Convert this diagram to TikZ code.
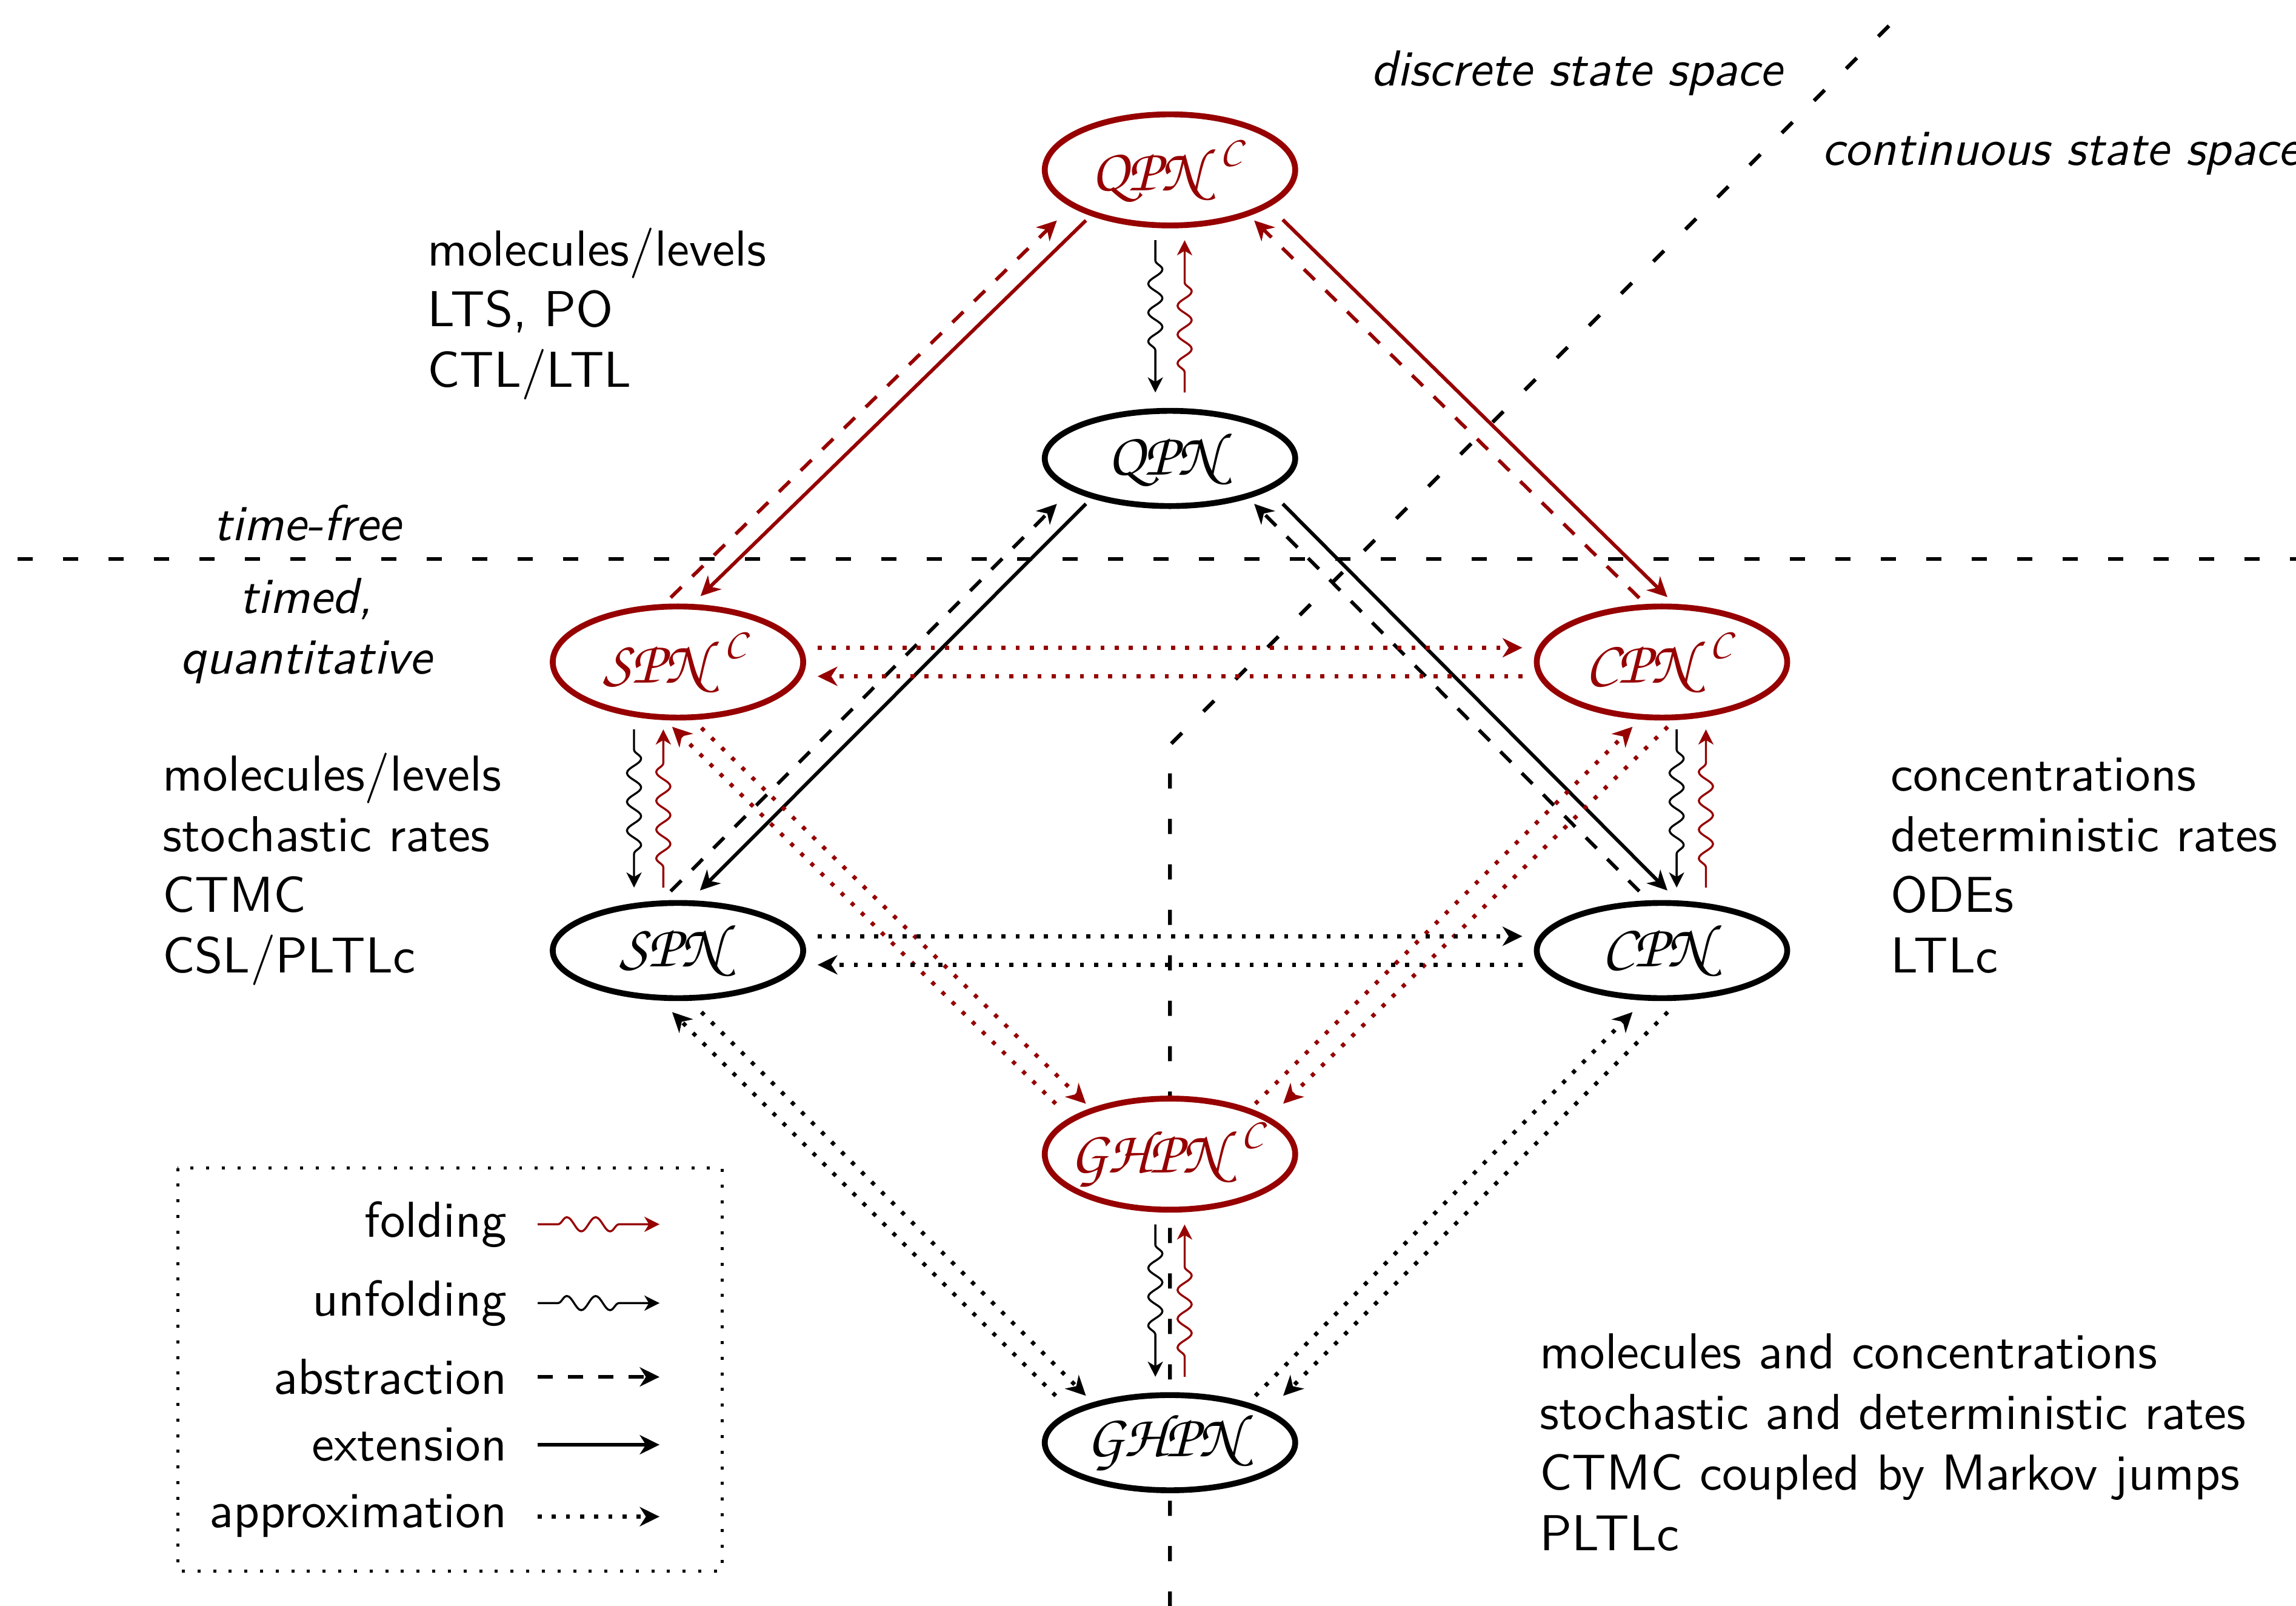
\documentclass[tikz,border=0pt]{standalone}
\usetikzlibrary{arrows.meta,decorations.pathmorphing,calc,shapes.geometric}
\DeclareMathAlphabet{\mathpzc}{OT1}{pzc}{m}{it}
\definecolor{dred}{RGB}{150,0,0}
% net class labels in Zapf Chancery, kept zero-width so all ellipses share one size
\newcommand\netlabel[1]{\makebox[0pt]{$\mathpzc{#1}$}}
\newcommand\netlabelc[1]{\makebox[0pt]{$\mathpzc{#1}^{\mkern2mu\mathpzc{C}}$}}
\tikzset{
  bigtip/.tip={Stealth[length=3.9pt,width=3.8pt,inset=1.2pt]},
  smalltip/.tip={Stealth[length=3pt,width=3pt,inset=0.9pt]},
  netnode/.style={ellipse, draw, line width=1.16pt, fill=white, inner sep=0pt,
    minimum width=49.6pt, minimum height=18.85pt, font=\large},
  colnode/.style={netnode, draw=dred, text=dred, minimum height=22pt},
  wavy/.style={line width=0.4pt, -smalltip, decorate,
    decoration={snake, amplitude=1.4pt, segment length=5.7pt, pre length=4pt, post length=6pt}},
  foldarr/.style={wavy, dred},
  unfoldarr/.style={wavy, black},
  extarr/.style={line width=0.7pt, -bigtip},
  absarr/.style={line width=0.7pt, dash pattern=on 3pt off 3pt, -bigtip},
  apparr/.style={line width=0.8pt, dash pattern=on 0.8pt off 2pt, -bigtip},
  divline/.style={line width=0.75pt, dash pattern=on 3pt off 6pt},
  legbox/.style={line width=0.6pt, dash pattern=on 0.6pt off 2.5pt},
  lbl/.style={font=\sffamily, inner sep=0pt},
  slantedtxt/.style={font=\sffamily\itshape, inner sep=0pt}
}
\begin{document}
\begin{tikzpicture}[x=0.29pt, y=-0.29pt]
\useasboundingbox (0,0) rectangle (1568,1096.5);

% borders between the classes
\coordinate (hl0) at (12,381.8);
\coordinate (hl1) at (1600,381.8);
\coordinate (dg0) at (1290,17.6);
\coordinate (dg1) at (799,508.6);
\coordinate (dg2) at (799,1110);
\draw[divline] (hl0) -- (hl1);
\draw[divline] (dg0) -- (dg1) -- (dg2);

% region labels (multi-line nodes sit on the baseline of their last line)
\node[slantedtxt, anchor=base west] (dss) at (936,58.6) {discrete state space};
\node[slantedtxt, anchor=base west] (css) at (1244,113) {continuous state space};
\node[slantedtxt, anchor=base] (tfree) at (209.7,369) {time-free};
\node[slantedtxt, align=center, anchor=base] (timed) at (209,460.2) {timed,\\quantitative};

% descriptions
\node[lbl, align=left, anchor=base west] (dqpn) at (291.2,264.1) {molecules/levels\\LTS, PO\\CTL/LTL};
\node[lbl, align=left, anchor=base west] (dspn) at (110.4,664.2) {molecules/levels\\stochastic rates\\CTMC\\CSL/PLTLc};
\node[lbl, align=left, anchor=base west] (dcpn) at (1290.4,664.2) {concentrations\\deterministic rates\\ODEs\\LTLc};
\node[lbl, align=left, anchor=base west] (dghpn) at (1050.8,1058.8) {molecules and concentrations\\stochastic and deterministic rates\\CTMC coupled by Markov jumps\\PLTLc};

% net classes
\node[colnode] (qpnc) at (799,116) {\netlabelc{QPN}};
\node[netnode] (qpn) at (799,313) {\netlabel{QPN}};
\node[colnode] (spnc) at (463,452) {\netlabelc{SPN}};
\node[colnode] (cpnc) at (1135,452) {\netlabelc{CPN}};
\node[netnode] (spn) at (463,649) {\netlabel{SPN}};
\node[netnode] (cpn) at (1135,649) {\netlabel{CPN}};
\node[colnode] (ghpnc) at (799,788) {\netlabelc{GHPN}};
\node[netnode] (ghpn) at (799,985) {\netlabel{GHPN}};

% folding / unfolding
\draw[unfoldarr] ($(qpnc)+(-10,48)$) -- ($(qpn)+(-10,-45)$);
\draw[foldarr] ($(qpn)+(10,-45)$) -- ($(qpnc)+(10,48)$);
\draw[unfoldarr] ($(spnc)+(-30,46)$) -- ($(spn)+(-30,-43)$);
\draw[foldarr] ($(spn)+(-10,-43)$) -- ($(spnc)+(-10,46)$);
\draw[unfoldarr] ($(cpnc)+(10,46)$) -- ($(cpn)+(10,-43)$);
\draw[foldarr] ($(cpn)+(30,-43)$) -- ($(cpnc)+(30,46)$);
\draw[unfoldarr] ($(ghpnc)+(-10,48)$) -- ($(ghpn)+(-10,-45)$);
\draw[foldarr] ($(ghpn)+(10,-45)$) -- ($(ghpnc)+(10,48)$);

% extension / abstraction, coloured level
\draw[extarr, dred] ($(qpnc)+(-57.4,34.5)$) -- ($(spnc)+(15.4,-45)$);
\draw[absarr, dred] ($(spnc)+(-5,-44)$) -- ($(qpnc)+(-77.2,34.5)$);
\draw[extarr, dred] ($(qpnc)+(77,34)$) -- ($(cpnc)+(3.7,-44.3)$);
\draw[absarr, dred] ($(cpnc)+(-15.5,-43.7)$) -- ($(qpnc)+(57.5,34.5)$);

% extension / abstraction, uncoloured level
\draw[extarr] ($(qpn)+(-57.4,31)$) -- ($(spn)+(15,-41)$);
\draw[absarr] ($(spn)+(-5,-40.5)$) -- ($(qpn)+(-77.2,31)$);
\draw[extarr] ($(qpn)+(77,31)$) -- ($(cpn)+(3.7,-41)$);
\draw[absarr] ($(cpn)+(-15.5,-40.5)$) -- ($(qpn)+(57.5,31)$);

% approximation, coloured level
\draw[apparr, dred] ($(spnc)+(95.4,-9.75)$) -- ($(cpnc)+(-95.4,-9.75)$);
\draw[apparr, dred] ($(cpnc)+(-95.4,9.75)$) -- ($(spnc)+(95.4,9.75)$);
\draw[apparr, dred] ($(spnc)+(16,45)$) -- ($(ghpnc)+(-57.4,-34.4)$);
\draw[apparr, dred] ($(ghpnc)+(-78,-34.4)$) -- ($(spnc)+(-4,44.2)$);
\draw[apparr, dred] ($(cpnc)+(3.9,44.2)$) -- ($(ghpnc)+(77.3,-34.4)$);
\draw[apparr, dred] ($(ghpnc)+(58.3,-34.4)$) -- ($(cpnc)+(-20.1,44.2)$);

% approximation, uncoloured level
\draw[apparr] ($(spn)+(95.4,-9.75)$) -- ($(cpn)+(-95.4,-9.75)$);
\draw[apparr] ($(cpn)+(-95.4,9.75)$) -- ($(spn)+(95.4,9.75)$);
\draw[apparr] ($(spn)+(16,42)$) -- ($(ghpn)+(-57.4,-32)$);
\draw[apparr] ($(ghpn)+(-78,-32)$) -- ($(spn)+(-4,42)$);
\draw[apparr] ($(cpn)+(3.9,42)$) -- ($(ghpn)+(77.3,-32)$);
\draw[apparr] ($(ghpn)+(58.3,-32)$) -- ($(cpn)+(-20.1,42)$);

% legend
\coordinate (lgA) at (121.3,797.5);
\coordinate (lgB) at (493,1072.6);
\draw[legbox] (lgA) rectangle (lgB);
\node[lbl, anchor=base east] (lfold) at (346.9,844.5) {folding};
\node[lbl, anchor=base east] (lunfold) at (346.9,898.3) {unfolding};
\node[lbl, anchor=base east] (labs) at (346.9,951.8) {abstraction};
\node[lbl, anchor=base east] (lext) at (346.9,997.4) {extension};
\node[lbl, anchor=base east] (lapp) at (346.9,1043) {approximation};
\coordinate (lf0) at (367.2,835.9);  \coordinate (lf1) at (450.4,835.9);
\coordinate (lu0) at (367.2,889.7);  \coordinate (lu1) at (450.4,889.7);
\coordinate (la0) at (367.2,940.1);  \coordinate (la1) at (450.4,940.1);
\coordinate (le0) at (367.2,986.4);  \coordinate (le1) at (450.4,986.4);
\coordinate (lp0) at (367.2,1035.5); \coordinate (lp1) at (450.4,1035.5);
\draw[foldarr] (lf0) -- (lf1);
\draw[unfoldarr] (lu0) -- (lu1);
\draw[absarr] (la0) -- (la1);
\draw[extarr] (le0) -- (le1);
\draw[apparr] (lp0) -- (lp1);
\end{tikzpicture}
\end{document}
